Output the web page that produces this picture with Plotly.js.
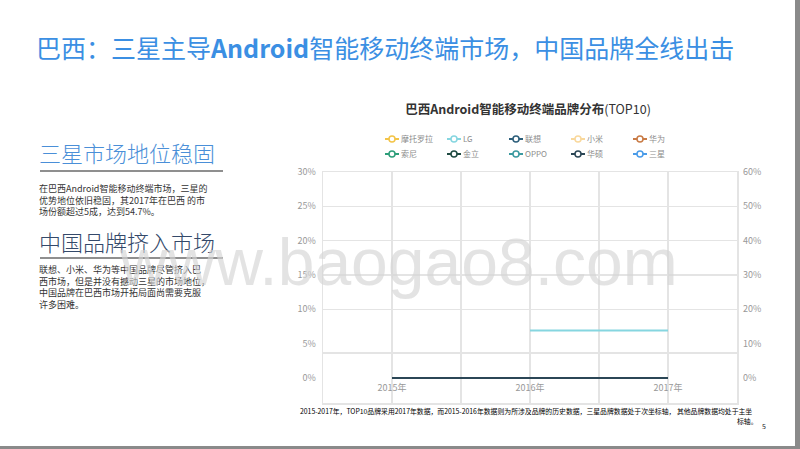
<!DOCTYPE html>
<html><head><meta charset="utf-8">
<script src="https://cdn.plot.ly/plotly-3.0.1.min.js"></script>
<style>
body{margin:0;width:800px;height:449px;overflow:hidden;background:#fff;font-family:"Noto Sans CJK SC","Microsoft YaHei",sans-serif;position:relative;}
#chart{position:absolute;left:0;top:0;width:800px;height:449px;}
.abs{position:absolute;white-space:nowrap;}
#title{left:36px;top:35px;font-size:25px;line-height:25px;color:#3b8fe3;}
#title b{font-weight:700;}
.h{font-size:22px;line-height:22px;font-weight:300;}
#h1{left:39px;top:141px;color:#4a8fd8;}
#h2{left:39px;top:230px;color:#34496a;}
.rule{position:absolute;left:40px;width:183px;height:2px;background:#8f8f8f;}
.body{font-size:9px;color:#333;}
#b1{left:39px;top:183px;line-height:11.5px;}
#b2{left:39px;top:264px;line-height:11.7px;}
#foot1{left:300px;top:406px;font-size:6.85px;line-height:10px;color:#000;}
#foot2{left:737px;top:416px;font-size:6.85px;line-height:10px;color:#000;}
#page{left:762px;top:421px;font-size:7px;line-height:10px;color:#222;}
#barR{position:absolute;left:795px;top:0;width:5px;height:449px;background:#8a8a8a;}
#barB{position:absolute;left:0;top:446px;width:800px;height:3px;background:#8a8a8a;}
#wm{left:120px;top:229px;font-family:"Liberation Sans",Arial,sans-serif;font-size:66px;line-height:66px;color:rgba(212,212,212,0.65);pointer-events:none;}
</style></head><body>
<div id="chart"></div>
<div class="abs" id="title">巴西：三星主导<b>Android</b>智能移动终端市场，中国品牌全线出击</div>
<div class="abs h" id="h1">三星市场地位稳固</div>
<div class="rule" style="top:170px"></div>
<div class="abs body" id="b1">在巴西Android智能移动终端市场，三星的<br>优势地位依旧稳固，其2017年在巴西 的市<br>场份额超过5成，达到54.7%。</div>
<div class="abs h" id="h2">中国品牌挤入市场</div>
<div class="rule" style="top:257px"></div>
<div class="abs body" id="b2">联想、小米、华为等中国品牌尽管挤入巴<br>西市场，但是并没有撼动三星的市场地位，<br>中国品牌在巴西市场开拓局面尚需要克服<br>许多困难。</div>
<div class="abs" id="foot1">2015-2017年，TOP10品牌采用2017年数据，而2015-2016年数据则为所涉及品牌的历史数据，三星品牌数据处于次坐标轴， 其他品牌数据均处于主坐</div>
<div class="abs" id="foot2">标轴。</div>
<div class="abs" id="page">5</div>
<div id="barR"></div><div id="barB"></div>
<div class="abs" id="wm">www.baogao8.com</div>
<script>
// ---- data ----
const years = ['2015年', '2016年', '2017年'];
const brands = ['摩托罗拉', 'LG', '联想', '小米', '华为', '索尼', '金立', 'OPPO', '华硕', '三星'];
const lgShare = [null, 6.9, 6.9];        // primary axis, %
const asusShare = [0, 0, 0];             // primary axis, %
const samsungShare = [null, null, null]; // secondary axis, % (not drawn in source)
const leftTicks = [0, 5, 10, 15, 20, 25, 30];
const rightTicks = [0, 10, 20, 30, 40, 50, 60];

// ---- styles ----
const brandColors = ['#f3c449', '#86d6e0', '#2d5f7b', '#f9d89c', '#c97b46', '#2e9e7a', '#1f4a42', '#3c9aa0', '#2b4656', '#4a9be8'];
const FONT = '"Noto Sans CJK SC","Microsoft YaHei",sans-serif';
const gridC = '#e4e4e4';

const traces = [];
traces.push({x: years, y: lgShare, type: 'scatter', mode: 'lines', line: {color: brandColors[1], width: 2}, showlegend: false, hoverinfo: 'skip'});
traces.push({x: years, y: asusShare, type: 'scatter', mode: 'lines', line: {color: brandColors[8], width: 2}, showlegend: false, hoverinfo: 'skip'});
traces.push({x: years, y: samsungShare, yaxis: 'y2', type: 'scatter', mode: 'lines', line: {color: brandColors[9], width: 2}, showlegend: false, hoverinfo: 'skip'});
traces.push({x: [], y: [], xaxis: 'x2', yaxis: 'y3', type: 'scatter', mode: 'lines', showlegend: false, hoverinfo: 'skip'});
brands.forEach((b, i) => {
  traces.push({x: [null], y: [null], type: 'scatter', mode: 'lines+markers', name: b,
    legend: i < 5 ? 'legend' : 'legend2',
    line: {color: brandColors[i], width: 2},
    marker: {symbol: 'circle', size: 6, color: '#fff', line: {color: brandColors[i], width: 1.5}}});
});

const W = 800, H = 449, L = 323, R = 63, T = 172, B = 46;
const pw = W - L - R, ph = H - T - B;
const px2x = p => (p - L) / pw;
const py2y = p => (H - B - p) / ph;

const legendCommon = {orientation: 'h', xanchor: 'left', yanchor: 'middle', bgcolor: 'rgba(0,0,0,0)',
  font: {family: FONT, size: 8, color: '#8c8c8c'}, entrywidth: 17, entrywidthmode: 'pixels', itemclick: false};

const layout = {
  width: W, height: H,
  margin: {l: L, r: R, t: T, b: B, pad: 0},
  paper_bgcolor: 'rgba(0,0,0,0)', plot_bgcolor: 'rgba(0,0,0,0)',
  font: {family: FONT, color: '#999'},
  title: {text: '<b>巴西Android智能移动终端品牌分布</b>(TOP10)', font: {family: FONT, size: 12.5, color: '#333'},
    xref: 'container', yref: 'container', x: 528 / W, xanchor: 'center', y: 1 - 110 / H, yanchor: 'middle'},
  xaxis: {type: 'category', range: [-0.5, 2.5], anchor: 'free', position: py2y(378),
    showgrid: true, gridcolor: gridC, gridwidth: 1.5, showline: false, zeroline: false, ticks: '', ticklabelstandoff: 3,
    tickfont: {family: FONT, size: 9, color: '#999'}},
  xaxis2: {overlaying: 'x', anchor: 'y', range: [-0.5, 2.5], tickvals: [0.5, 1.5], showticklabels: false,
    showgrid: true, gridcolor: gridC, gridwidth: 1.5, showline: true, mirror: true, linecolor: gridC, linewidth: 1.5,
    ticks: '', zeroline: false},
  yaxis: {range: [-3.64, 30], tickvals: leftTicks, ticktext: leftTicks.map(v => v + '%'), showgrid: false, zeroline: false,
    showline: true, mirror: true, linecolor: gridC, linewidth: 1.5, ticks: '', ticklabelstandoff: 4,
    tickfont: {family: FONT, size: 9, color: '#999'}},
  yaxis2: {overlaying: 'y', side: 'right', range: [-7.28, 60], tickvals: rightTicks, ticktext: rightTicks.map(v => v + '%'),
    showgrid: false, zeroline: false, showline: false, ticks: '', ticklabelstandoff: 5,
    tickfont: {family: FONT, size: 9, color: '#999'}},
  yaxis3: {overlaying: 'y', anchor: 'x', range: [-3.64, 30], tickvals: [3.64, 10, 15, 20, 25, 30],
    showticklabels: false, showgrid: true, gridcolor: gridC, gridwidth: 1.5, zeroline: false, ticks: ''},
  legend: Object.assign({x: px2x(380), y: py2y(139)}, legendCommon),
  legend2: Object.assign({x: px2x(380), y: py2y(154)}, legendCommon)
};

function fixLegends() {
  const groups = new Map();
  document.querySelectorAll('g.traces').forEach(g => {
    const p = g.parentNode;
    if (!groups.has(p)) groups.set(p, []);
    groups.get(p).push(g);
  });
  groups.forEach(items => {
    let y0 = null;
    items.forEach((g, i) => {
      const tr = g.getAttribute('transform') || '';
      const m = tr.match(/translate\(\s*([-\d.]+)[ ,]+([-\d.]+)/);
      const y = m ? parseFloat(m[2]) : 0;
      if (y0 === null) y0 = y;
      g.setAttribute('transform', 'translate(' + (i * 62) + ',' + y0 + ')');
      g.querySelectorAll('.legendlines path').forEach(p => p.setAttribute('d', 'M5,0h14'));
      g.querySelectorAll('.legendpoints path.scatterpts').forEach(p => p.setAttribute('transform', 'translate(12,0)'));
      g.querySelectorAll('text').forEach(t => {
        t.setAttribute('x', 21);
        t.querySelectorAll('tspan').forEach(s => { if (s.hasAttribute('x')) s.setAttribute('x', 21); });
      });
    });
  });
}

const gd = document.getElementById('chart');
Plotly.newPlot(gd, traces, layout, {staticPlot: true, displayModeBar: false}).then(() => {
  fixLegends();
  setTimeout(fixLegends, 30);
  setTimeout(fixLegends, 200);
});
</script>
</body></html>
